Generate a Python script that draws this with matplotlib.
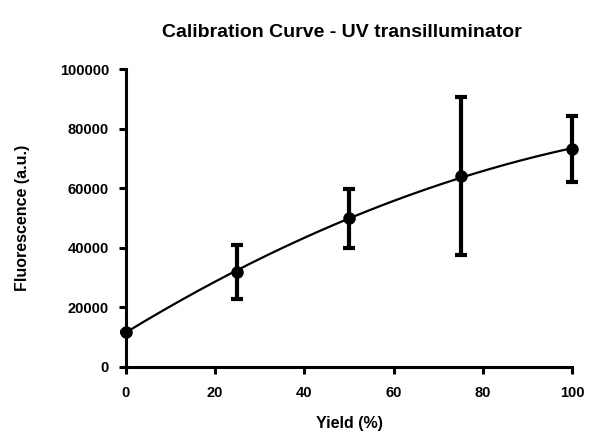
import matplotlib
matplotlib.use("Agg")
import matplotlib.pyplot as plt
import numpy as np

# calibration standards: yield (%) vs mean fluorescence and SD
yield_pct = [0, 25, 50, 75, 100]
fluorescence = [11800, 31800, 49800, 64100, 73100]
fluor_sd = [0, 9100, 9950, 26600, 11000]

plt.rcParams["font.family"] = ["Liberation Sans", "DejaVu Sans"]
plt.rcParams["font.weight"] = "bold"

fig = plt.figure(figsize=(6.12, 4.34), dpi=100)
ax = fig.add_axes([0.2054, 0.155, 0.7296, 0.686])

# second order fit through the standards
coef = np.polyfit(yield_pct, fluorescence, 2)
xfit = np.linspace(0, 100, 200)
ax.plot(xfit, np.polyval(coef, xfit), color="black", lw=1.6, clip_on=False)

ax.errorbar(yield_pct, fluorescence, yerr=fluor_sd, fmt="o", color="black",
            ms=8, elinewidth=3, capsize=4.5, capthick=3, clip_on=False, zorder=3)

ax.set_xlim(0, 100)
ax.set_ylim(0, 100000)
ax.set_xticks(np.arange(0, 101, 20))
ax.set_yticks(np.arange(0, 100001, 20000))

for side in ["top", "right"]:
    ax.spines[side].set_visible(False)
for side in ["left", "bottom"]:
    ax.spines[side].set_linewidth(2.2)
ax.tick_params(width=2.2, length=5, direction="out", labelsize=10.5)
ax.tick_params(axis="x", pad=9)
ax.tick_params(axis="y", pad=7)
for lab in ax.get_xticklabels() + ax.get_yticklabels():
    lab.set_fontweight("bold")

ax.set_xlabel("Yield (%)", fontsize=11.5, fontweight="bold")
ax.set_ylabel("Fluorescence (a.u.)", fontsize=11.5, fontweight="bold")
ax.xaxis.set_label_coords(0.5, -0.165)
ax.yaxis.set_label_coords(-0.215, 0.5)
fig.text(0.558, 0.925, "Calibration Curve - UV transilluminator",
         ha="center", va="center", fontsize=14, fontweight="bold")

fig.savefig("out.png", dpi=100)
